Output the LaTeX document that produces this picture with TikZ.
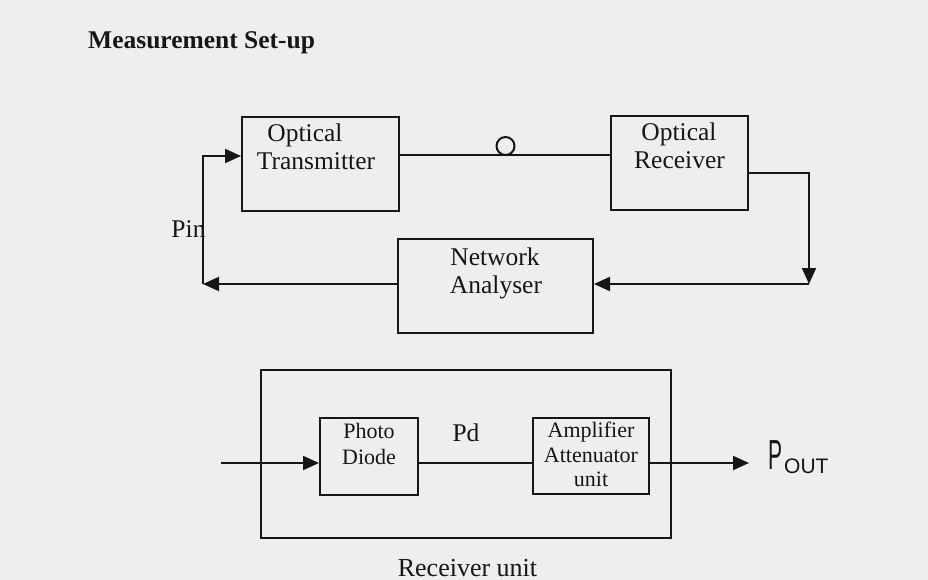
\documentclass[tikz,border=0pt]{standalone}
\usepackage{fontspec}
\setmainfont{Liberation Serif}
\newfontfamily\handfont{Liberation Sans}
\usetikzlibrary{arrows.meta}
\definecolor{paper}{RGB}{238,238,238}
\definecolor{ink}{RGB}{22,22,22}
\tikzset{
  blk/.style={draw=ink, line width=2pt, inner sep=0pt},
  wire/.style={draw=ink, line width=2pt},
  arr/.style={wire, -{Triangle[length=16pt,width=14pt]}},
  big/.style={text=ink, anchor=base, font=\fontsize{25.5}{28}\selectfont, inner sep=0pt},
  small/.style={text=ink, anchor=base, font=\fontsize{22}{24}\selectfont, inner sep=0pt},
}
\begin{document}
\begin{tikzpicture}[x=1pt,y=-1pt]
\fill[paper] (0,0) rectangle (928,580);
\useasboundingbox (0,0) rectangle (928,580);

% title
\node[text=ink, anchor=base west, inner sep=0pt, font=\bfseries\fontsize{25.5}{28}\selectfont] (title) at (88,49) {Measurement Set-up};

% top boxes
\node[blk, minimum width=157pt, minimum height=94pt] (tx) at (320.5,164) {};
\node[blk, minimum width=137pt, minimum height=94pt] (rx) at (679.5,163) {};
\node[blk, minimum width=195pt, minimum height=94pt] (na) at (495.5,286) {};

\node[big] (t1) at (305,142) {Optical};
\node[big] (t2) at (316,170) {Transmitter};
\node[big] (r1) at (679,141) {Optical};
\node[big] (r2) at (679.5,169) {Receiver};
\node[big] (n1) at (495,265) {Network};
\node[big] (n2) at (496,293) {Analyser};

% fibre link
\draw[wire] ([yshift=9pt]tx.east) -- ([yshift=8pt]rx.west);
\node[draw=ink, line width=2pt, circle, minimum size=18pt, inner sep=0pt] (fib) at (505.5,146) {};

% receiver -> network analyser
\coordinate (rc) at (809,284);
\draw[arr] ([yshift=-10pt]rx.east) -| (rc);
\draw[arr] (rc) -- (na.east |- rc);

% network analyser -> transmitter
\coordinate (lc) at (203,284);
\draw[arr] (na.west |- lc) -- (lc);
\draw[arr] (lc) |- ([yshift=8pt]tx.west);
\node[big] (pin) at (188.5,237) {Pin};

% receiver unit
\node[blk, minimum width=410pt, minimum height=168pt] (ru) at (466,454) {};
\node[blk, minimum width=98pt, minimum height=77pt] (pd) at (369,456.5) {};
\node[blk, minimum width=116pt, minimum height=76pt] (amp) at (591,456) {};

\node[small] (p1) at (369,438) {Photo};
\node[small] (p2) at (369,464.5) {Diode};
\node[small] (a1) at (591,437.5) {Amplifier};
\node[small] (a2) at (591,462.5) {Attenuator};
\node[small] (a3) at (591,486) {unit};
\node[big] (pdl) at (466,441) {Pd};
\node[text=ink, anchor=base, inner sep=0pt, font=\fontsize{26}{28}\selectfont] (rul) at (467.5,576) {Receiver unit};

\coordinate (inp) at (221,463);
\draw[arr] (inp) -- (pd.west |- inp);
\draw[wire] (pd.east |- inp) -- (amp.west |- inp);
\coordinate (outp) at (749,463);
\draw[arr] (amp.east |- inp) -- (outp);

\node[text=ink, anchor=base west, inner sep=0pt] (pout) at (768,469)
  {\handfont\fontsize{42}{42}\selectfont\scalebox{0.5}[1]{P}\hspace{2pt}\raisebox{-4pt}{\fontsize{21}{21}\selectfont OUT}};
\end{tikzpicture}
\end{document}
